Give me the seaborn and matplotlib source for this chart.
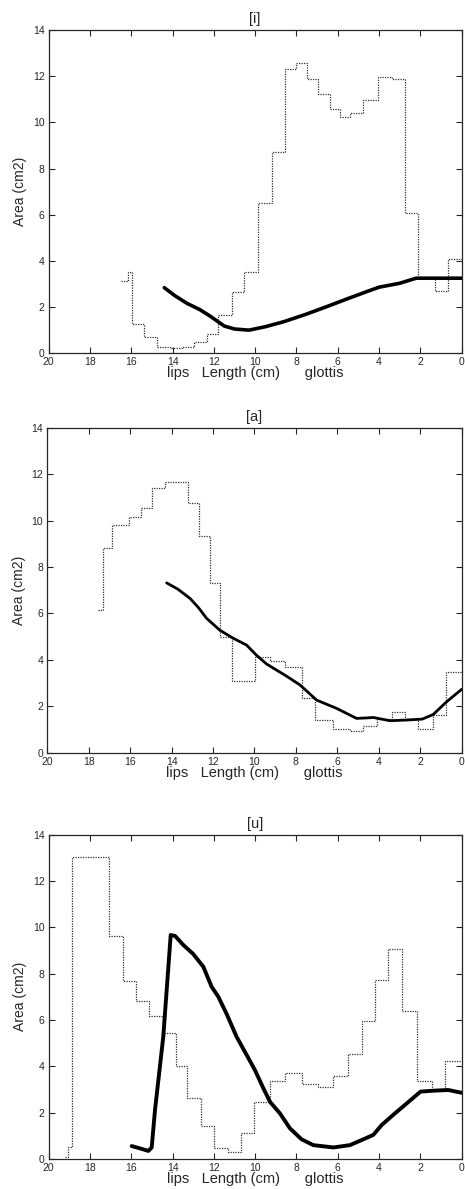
import matplotlib
matplotlib.use("Agg")
import matplotlib.pyplot as plt
import seaborn as sns

# [i] measured area function (step edges in cm from glottis, areas in cm2)
i_edges = [16.50, 16.15, 15.97, 15.38, 14.77, 14.13, 13.56, 12.95, 12.35, 11.79, 11.14, 10.53,
           9.88, 9.20, 8.56, 8.02, 7.51, 6.94, 6.38, 5.89, 5.41, 4.77, 4.04, 3.39, 2.75, 2.10,
           1.29, 0.65, 0.0]
i_area = [3.13, 3.50, 1.28, 0.69, 0.26, 0.22, 0.29, 0.50, 0.84, 1.66, 2.67, 3.53, 6.50, 8.73,
          12.31, 12.56, 11.87, 11.22, 10.58, 10.25, 10.39, 10.97, 11.98, 11.87, 6.06, 3.25,
          2.70, 4.08]
i_fit_x = [14.4, 13.9, 13.3, 12.7, 12.2, 11.5, 11.0, 10.3, 9.5, 8.6, 7.5, 6.5, 5.5, 4.5, 4.0,
           3.0, 2.2, 1.0, 0.0]
i_fit_y = [2.84, 2.50, 2.16, 1.90, 1.62, 1.18, 1.05, 1.00, 1.15, 1.37, 1.70, 2.03, 2.37, 2.70,
           2.86, 3.03, 3.25, 3.25, 3.25]

# [a]
a_edges = [17.54, 17.30, 16.86, 16.04, 15.49, 14.96, 14.32, 13.19, 12.66, 12.15, 11.67, 11.10,
           9.98, 9.24, 8.52, 7.72, 7.08, 6.20, 5.39, 4.78, 4.10, 3.38, 2.74, 2.10, 1.40, 0.76, 0.0]
a_area = [6.15, 8.80, 9.81, 10.17, 10.56, 11.40, 11.68, 10.77, 9.34, 7.33, 5.00, 3.10, 4.14,
          3.96, 3.68, 2.37, 1.41, 1.01, 0.92, 1.15, 1.44, 1.74, 1.44, 1.01, 1.62, 3.49]
a_fit_x = [14.24, 13.7, 13.11, 12.7, 12.31, 11.67, 11.02, 10.38, 9.9, 9.41, 8.45, 7.80, 7.0,
           6.03, 5.07, 4.6, 4.26, 3.46, 2.65, 1.9, 1.37, 0.72, 0.0]
a_fit_y = [7.32, 7.05, 6.65, 6.25, 5.79, 5.28, 4.93, 4.64, 4.20, 3.82, 3.30, 2.92, 2.27, 1.91,
           1.48, 1.50, 1.52, 1.38, 1.41, 1.45, 1.65, 2.20, 2.73]

# [u]
u_edges = [19.19, 19.05, 18.89, 17.06, 16.42, 15.77, 15.14, 14.48, 13.83, 13.28, 12.62, 11.98,
           11.33, 10.69, 10.04, 9.28, 8.56, 7.75, 6.94, 6.21, 5.52, 4.84, 4.20, 3.55, 2.91,
           2.18, 1.45, 0.81, 0.0]
u_area = [0.10, 0.50, 13.05, 9.64, 7.70, 6.81, 6.17, 5.45, 4.01, 2.63, 1.42, 0.46, 0.32, 1.14,
          2.45, 3.38, 3.73, 3.24, 3.12, 3.58, 4.52, 5.96, 7.73, 9.05, 6.40, 3.38, 2.98, 4.24]
u_fit_x = [15.98, 15.58, 15.17, 15.01, 14.85, 14.45, 14.09, 13.88, 13.48, 13.0, 12.51, 12.11,
           11.78, 11.38, 10.9, 10.41, 10.01, 9.6, 9.28, 8.8, 8.31, 7.75, 7.18, 6.21, 5.41,
           4.84, 4.28, 3.87, 3.23, 2.66, 1.99, 1.37, 0.65, 0.0]
u_fit_y = [0.56, 0.46, 0.35, 0.50, 2.12, 5.28, 9.67, 9.63, 9.24, 8.85, 8.30, 7.44, 7.0, 6.26,
           5.28, 4.49, 3.84, 3.05, 2.47, 1.97, 1.32, 0.85, 0.60, 0.50, 0.60, 0.82, 1.04, 1.47,
           1.97, 2.40, 2.91, 2.95, 2.98, 2.86]

titles = ['[i]', '[a]', '[u]']
xticks = [20, 18, 16, 14, 12, 10, 8, 6, 4, 2, 0]
yticks = [0, 2, 4, 6, 8, 10, 12, 14]

sns.set_style('ticks')
plt.rcParams['font.family'] = ['Liberation Sans', 'DejaVu Sans']
plt.rcParams['xtick.direction'] = 'in'
plt.rcParams['ytick.direction'] = 'in'

fig = plt.figure(figsize=(4.65, 11.89), dpi=100)
boxes = [[0.1047, 0.7029, 0.888, 0.2719],
         [0.1017, 0.3669, 0.891, 0.2733],
         [0.1047, 0.0252, 0.888, 0.2728]]

panels = [(i_edges, i_area, i_fit_x, i_fit_y, 2.6),
          (a_edges, a_area, a_fit_x, a_fit_y, 2.0),
          (u_edges, u_area, u_fit_x, u_fit_y, 2.8)]

for box, title, (edges, area, fx, fy, lw) in zip(boxes, titles, panels):
    ax = fig.add_axes(box)
    sns.lineplot(x=edges, y=area + [area[-1]], ax=ax, sort=False, estimator=None,
                 drawstyle='steps-post', color='#333333', linewidth=0.9, linestyle=(0, (1, 1)))
    sns.lineplot(x=fx, y=fy, ax=ax, sort=False, estimator=None, color='black', linewidth=lw)
    ax.set_xlim(20, 0)
    ax.set_ylim(0, 14)
    ax.set_xticks(xticks)
    ax.set_yticks(yticks)
    ax.tick_params(top=True, right=True, length=4, width=0.8, labelsize=7.5, pad=3)
    for s in ax.spines.values():
        s.set_linewidth(0.9)
        s.set_visible(True)
    ax.set_title(title, fontsize=10.5, pad=5)
    ax.set_xlabel('lips   Length (cm)      glottis', fontsize=10.5, labelpad=-1)
    ax.set_ylabel('Area (cm2)', fontsize=10, labelpad=4)

fig.savefig('out.png', dpi=100)
